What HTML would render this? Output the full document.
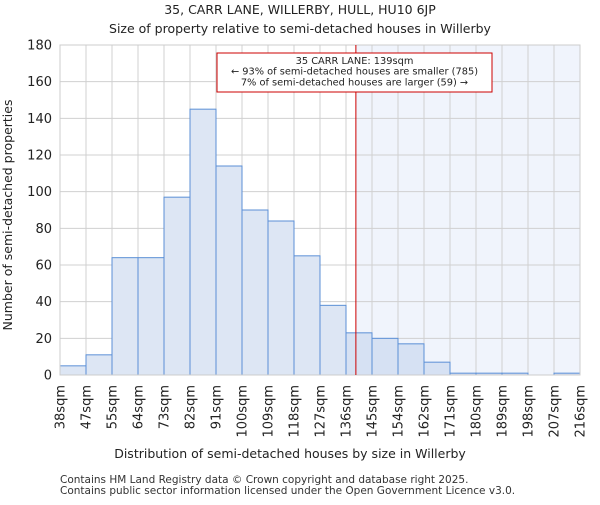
<!DOCTYPE html>
<html><head><meta charset="utf-8"><style>
body{margin:0;background:#fff;}
svg{font-family:"DejaVu Sans","Liberation Sans",sans-serif;}
</style></head><body>
<svg id="chart" width="600" height="500" xmlns="http://www.w3.org/2000/svg">
<text x="300" y="14" text-anchor="middle" font-size="12.5" fill="#222">35, CARR LANE, WILLERBY, HULL, HU10 6JP</text>
<text x="300" y="33" text-anchor="middle" font-size="12.5" fill="#222">Size of property relative to semi-detached houses in Willerby</text>
<g id="plot"></g>
<text x="290" y="458" text-anchor="middle" font-size="12.5" fill="#222">Distribution of semi-detached houses by size in Willerby</text>
<text transform="translate(12,215) rotate(-90)" text-anchor="middle" font-size="12.5" fill="#222">Number of semi-detached properties</text>
<text x="60" y="483" font-size="10.5" fill="#333">Contains HM Land Registry data © Crown copyright and database right 2025.</text>
<text x="60" y="494" font-size="10.5" fill="#333">Contains public sector information licensed under the Open Government Licence v3.0.</text>
</svg>
<script>
const tickLabels=["38sqm","47sqm","55sqm","64sqm","73sqm","82sqm","91sqm","100sqm","109sqm","118sqm","127sqm","136sqm","145sqm","154sqm","162sqm","171sqm","180sqm","189sqm","198sqm","207sqm","216sqm"];
const counts=[5,11,64,64,97,145,114,90,84,65,38,23,20,17,7,1,1,1,0,1];
const yTicks=[0,20,40,60,80,100,120,140,160,180];
const markerBin=11.38;
const annotation=["35 CARR LANE: 139sqm","← 93% of semi-detached houses are smaller (785)","7% of semi-detached houses are larger (59) →"];
const NS="http://www.w3.org/2000/svg";
const L=60,R=580,T=45,B=375,yMax=180;
const bw=(R-L)/counts.length;
const xs=i=>L+i*bw, ys=v=>B-(v/yMax)*(B-T);
const g=document.getElementById('plot');
function mk(t,a,p){const e=document.createElementNS(NS,t);for(const k in a)e.setAttribute(k,a[k]);(p||g).appendChild(e);return e;}
const mx=xs(markerBin);
let e=mk('rect',{x:mx,y:T,width:R-mx,height:B-T,fill:'#f0f4fc'});


yTicks.forEach(v=>{
 let l=mk('line',{x1:L,x2:R,y1:ys(v),y2:ys(v),stroke:'#d0d0d0','stroke-width':1});
 
 
 let t=mk('text',{x:L-8,y:ys(v)+4.5,'text-anchor':'end','font-size':13,fill:'#222'});
 t.textContent=v;
 
 
});
tickLabels.forEach((s,i)=>{
 let l=mk('line',{x1:xs(i),x2:xs(i),y1:T,y2:B,stroke:'#d0d0d0','stroke-width':1});
 
 
 let t=mk('text',{transform:`translate(${xs(i)+4.5},${B+10}) rotate(-90)`,'text-anchor':'end','font-size':13,fill:'#222'});
 t.textContent=s;
 
 
});
counts.forEach((v,i)=>{
 if(v<=0)return;
 let r=mk('rect',{x:xs(i),y:ys(v),width:bw,height:B-ys(v),fill:i>=Math.floor(markerBin)?'#d6e1f3':'#dde6f4',stroke:'#5b8fd6','stroke-width':1});
 
 
});
let fr=mk('rect',{x:L,y:T,width:R-L,height:B-T,fill:'none',stroke:'#cccccc','stroke-width':1});


let ml=mk('line',{x1:mx,x2:mx,y1:T,y2:B,stroke:'#cc0000','stroke-width':1});


let box=mk('rect',{x:217,y:53,width:275,height:39,fill:'#fff',stroke:'#cc0000','stroke-width':1});


annotation.forEach((s,i)=>{
 let t=mk('text',{x:354.5,y:64+i*10.7,'text-anchor':'middle','font-size':9.8,fill:'#222'});
 t.textContent=s;
 
 
});
</script>
</body></html>
